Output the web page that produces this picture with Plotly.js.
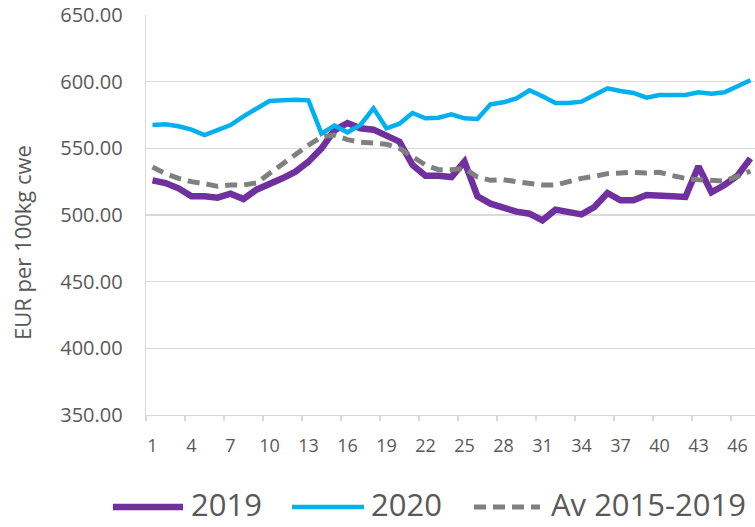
<!DOCTYPE html>
<html>
<head>
<meta charset="utf-8">
<script src="https://cdn.plot.ly/plotly-3.0.1.min.js"></script>
<style>html,body{margin:0;padding:0;background:#fff;}#chart{width:755px;height:527px;}</style>
</head>
<body>
<div id="chart"></div>
<script>
const weeks = [];
for (let w = 1; w <= 47; w++) weeks.push(w);

const y2019 = [526, 524, 520, 514, 514, 513, 516, 512, 519, 523, 527.5, 532.5, 540, 550, 563.5, 569, 565, 564, 560, 555, 537.5, 529.5, 529.5, 528.5, 540, 514, 508.5, 505, 502.5, 501, 496, 504, 502.5, 500.5, 506, 516.5, 511, 511, 515, 515, 514, 513.5, 536.5, 517, 522.5, 529.5, 542.5];

const y2020 = [567.5, 568, 566.5, 564, 560, 564, 567.5, 574, 580, 585.5, 586, 586.5, 586, 561, 567, 562, 567.5, 580, 565, 568.5, 576.5, 572.5, 573, 575.5, 572.5, 572, 583, 584.5, 587.5, 593.5, 589, 584, 584, 585, 590, 595, 593, 591.5, 588, 590, 590, 590, 592, 591, 592, 596.5, 601];

const yAvg = [536, 531, 527.5, 525, 523.5, 521.5, 522.5, 522.5, 524, 531, 539, 546, 552.5, 558.5, 560, 556.5, 554.5, 554, 553, 550, 544, 537.5, 534, 534, 535, 528.5, 526, 526.5, 525, 523.5, 522.5, 522.5, 525, 527.5, 529, 531, 531.5, 532, 531.5, 532, 529.5, 527.5, 526.5, 526, 525.5, 529, 533];

const names = ['2019', '2020', 'Av 2015-2019'];
const yTicks = [350, 400, 450, 500, 550, 600, 650];
const xTicks = [1, 4, 7, 10, 13, 16, 19, 22, 25, 28, 31, 34, 37, 40, 43, 46];
const yTitle = 'EUR per 100kg cwe';

const textColor = '#595959';
const gridColor = '#d9d9d9';
const fontFam = '"Open Sans", "Noto Sans", Arial, sans-serif';

const styles = [
  {color: '#7030A0', width: 6.5, dash: 'solid'},
  {color: '#00B0F0', width: 4.5, dash: 'solid'},
  {color: '#808080', width: 5, dash: '12px,7px'}
];
const series = [y2019, y2020, yAvg];

const traces = series.map((ys, i) => ({
  x: weeks, y: ys, name: names[i], type: 'scatter', mode: 'lines',
  line: {color: styles[i].color, width: styles[i].width, dash: styles[i].dash},
  showlegend: false
}));

// Custom legend (pixel geometry converted to paper coordinates)
const L = 146, PW = 609, PB = 415, PH = 400;
const px = v => (v - L) / PW;
const py = v => (PB - v) / PH;
const legendItems = [
  {x0: 113, x1: 183, tx: 189},
  {x0: 292, x1: 364, tx: 369},
  {x0: 474, x1: 540, tx: 549}
];
const legendY = 504;
const shapes = [];
const annotations = [{
  text: yTitle, xref: 'paper', yref: 'paper', x: px(22), y: py(243),
  xanchor: 'center', yanchor: 'middle', textangle: -90, showarrow: false,
  font: {size: 22, color: textColor}
}];
legendItems.forEach((it, i) => {
  shapes.push({type: 'line', xref: 'paper', yref: 'paper',
    x0: px(it.x0), x1: px(it.x1), y0: py(legendY + 3), y1: py(legendY + 3),
    line: {color: styles[i].color, width: styles[i].width, dash: styles[i].dash}});
  annotations.push({text: names[i], xref: 'paper', yref: 'paper',
    x: px(it.tx), y: py(legendY), xanchor: 'left', yanchor: 'middle', showarrow: false,
    font: {size: 31, color: textColor}});
});

const layout = {
  width: 755, height: 527,
  margin: {l: 146, r: 0, t: 15, b: 112, autoexpand: false},
  paper_bgcolor: '#ffffff', plot_bgcolor: '#ffffff',
  font: {family: fontFam, color: textColor},
  showlegend: false,
  xaxis: {
    range: [0.5, 47.35], tickmode: 'array', tickvals: xTicks, ticktext: xTicks.map(String),
    showgrid: false, zeroline: false, showline: true, linecolor: gridColor, linewidth: 1.3,
    ticks: '', ticklabelstandoff: 14,
    minor: {ticks: 'outside', tick0: 0.5, dtick: 3, ticklen: 5, tickcolor: gridColor, tickwidth: 1.3, showgrid: false},
    tickfont: {size: 18, color: textColor}, fixedrange: true
  },
  yaxis: {
    range: [350, 650], tickmode: 'array', tickvals: yTicks, ticktext: yTicks.map(v => v.toFixed(2)),
    showgrid: true, gridcolor: gridColor, gridwidth: 1.3, zeroline: false,
    showline: true, linecolor: gridColor, linewidth: 1.3,
    ticks: '', ticklabelstandoff: 18,
    tickfont: {size: 20, color: textColor}, fixedrange: true
  },
  shapes: shapes,
  annotations: annotations
};

Plotly.newPlot('chart', traces, layout, {displayModeBar: false, staticPlot: true});
</script>
</body>
</html>
